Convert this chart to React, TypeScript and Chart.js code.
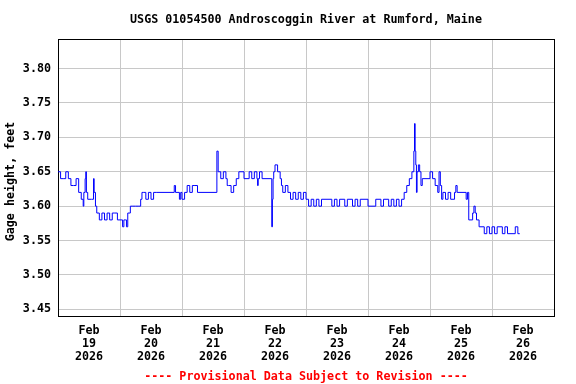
import { useEffect, useRef } from 'react';
import { Chart, registerables } from 'chart.js';

Chart.register(...registerables);

const titleText = 'USGS 01054500 Androscoggin River at Rumford, Maine';
const footerText = '---- Provisional Data Subject to Revision ----';
const yAxisTitle = 'Gage height, feet ';
const monthLabel = 'Feb';
const yearLabel = '2026';
const dayLabels = ['19', '20', '21', '22', '23', '24', '25', '26'];
const yTickValues = [3.45, 3.5, 3.55, 3.6, 3.65, 3.7, 3.75, 3.8];

// hours since Feb 19 2026 00:00
const hours = [
  0, 1, 2, 3, 4, 5, 6, 7, 8, 9, 9.75, 10, 10.5, 10.75, 11, 11.5, 12, 13, 13.75, 14,
  14.5, 15, 16, 17, 18, 19, 20, 21, 22, 23, 24, 25, 25.5, 26, 26.5, 27, 28, 29, 30, 31,
  32, 32.5, 33, 34, 35, 36, 37, 38, 45, 45.5, 47, 47.5, 48, 49, 50, 51, 52, 53, 54, 61.5,
  62, 63, 64, 65, 65.5, 66, 67, 68, 69, 70, 72, 74, 75, 76, 77, 77.25, 77.5, 78, 79, 82.75,
  83, 83.25, 83.5, 84, 85, 86, 86.5, 87, 88, 89, 90, 91, 92, 93, 94, 95, 96, 97, 98, 99,
  100, 101, 102, 106, 107, 108, 109, 111, 112, 114, 115, 116, 117, 120, 123, 125, 126, 128, 129, 130,
  131, 132, 133, 134, 135, 136, 137, 137.75, 138, 138.25, 138.5, 138.75, 139, 139.5, 140, 140.5, 141, 144, 145, 146,
  147, 147.5, 148, 148.5, 149, 150, 151, 152, 153.5, 154, 154.5, 158, 158.5, 159, 160.5, 161, 161.5, 162, 163, 165,
  166, 167, 168, 169, 170, 172, 173, 174, 177, 178, 178.75,
];

const gage = [
  3.65, 3.64, 3.64, 3.65, 3.64, 3.63, 3.63, 3.64, 3.62, 3.61, 3.60, 3.62, 3.64, 3.65, 3.62, 3.61, 3.61, 3.61, 3.64, 3.62,
  3.60, 3.59, 3.58, 3.59, 3.58, 3.59, 3.58, 3.59, 3.59, 3.58, 3.58, 3.57, 3.58, 3.58, 3.57, 3.59, 3.60, 3.60, 3.60, 3.60,
  3.61, 3.62, 3.62, 3.61, 3.62, 3.61, 3.62, 3.62, 3.63, 3.62, 3.61, 3.62, 3.61, 3.62, 3.63, 3.62, 3.63, 3.63, 3.62, 3.68,
  3.65, 3.64, 3.65, 3.64, 3.63, 3.63, 3.62, 3.63, 3.64, 3.65, 3.64, 3.65, 3.64, 3.65, 3.64, 3.63, 3.64, 3.65, 3.64, 3.57,
  3.61, 3.64, 3.65, 3.66, 3.65, 3.64, 3.63, 3.62, 3.63, 3.62, 3.61, 3.62, 3.61, 3.62, 3.61, 3.62, 3.61, 3.60, 3.61, 3.60,
  3.61, 3.60, 3.61, 3.60, 3.61, 3.60, 3.61, 3.60, 3.61, 3.60, 3.61, 3.60, 3.61, 3.60, 3.61, 3.60, 3.61, 3.60, 3.61, 3.60,
  3.61, 3.60, 3.61, 3.62, 3.63, 3.64, 3.65, 3.68, 3.72, 3.68, 3.66, 3.62, 3.65, 3.66, 3.65, 3.63, 3.64, 3.65, 3.64, 3.63,
  3.62, 3.65, 3.63, 3.61, 3.62, 3.61, 3.62, 3.61, 3.62, 3.63, 3.62, 3.61, 3.62, 3.58, 3.59, 3.60, 3.59, 3.58, 3.57, 3.56,
  3.57, 3.56, 3.57, 3.56, 3.57, 3.56, 3.57, 3.56, 3.57, 3.56, 3.56,
];

export default function App() {
  const ref = useRef<HTMLCanvasElement>(null);

  useEffect(() => {
    const font = { family: '"DejaVu Sans Mono", monospace', weight: 'bold' as const, size: 11.7 };
    const xTicks: number[] = [];
    for (let i = 0; i <= dayLabels.length; i++) {
      xTicks.push(i * 24);
      if (i < dayLabels.length) xTicks.push(i * 24 + 12);
    }
    const xMax = dayLabels.length * 24;

    const chart = new Chart(ref.current as HTMLCanvasElement, {
      type: 'line',
      data: {
        datasets: [
          {
            data: hours.map((h, i) => ({ x: h, y: gage[i] })),
            borderColor: '#0000ff',
            borderWidth: 1,
            pointRadius: 0,
            stepped: true,
            fill: false,
          },
        ],
      },
      options: {
        responsive: false,
        animation: false,
        devicePixelRatio: 1,
        layout: { padding: { left: 0, right: 22, top: 0, bottom: 0 } },
        plugins: {
          legend: { display: false },
          tooltip: { enabled: false },
          title: {
            display: true,
            text: titleText,
            color: '#000000',
            font: { ...font, lineHeight: 1.2 },
            padding: { top: 13, bottom: 11.96 },
            fullSize: false,
          },
          subtitle: {
            display: true,
            text: footerText,
            position: 'bottom',
            color: '#ff0000',
            font: { ...font, lineHeight: 1.2 },
            padding: { top: 6, bottom: 0.5 },
            fullSize: false,
          },
        },
        scales: {
          x: {
            type: 'linear',
            min: 0,
            max: xMax,
            afterBuildTicks: (s: any) => {
              s.ticks = xTicks.map((v) => ({ value: v }));
            },
            afterFit: (s: any) => {
              s.height = 46.6;
            },
            grid: {
              drawTicks: false,
              color: (ctx: any) => {
                const v = ctx.tick ? ctx.tick.value : 0;
                return v % 24 === 0 && v > 0 && v < xMax ? '#c8c8c8' : 'rgba(0,0,0,0)';
              },
            },
            border: { color: '#000000', width: 1 },
            ticks: {
              autoSkip: false,
              maxRotation: 0,
              minRotation: 0,
              padding: 7,
              color: '#000000',
              font: { ...font, lineHeight: 1.13 },
              callback: (value: any) => {
                const v = Number(value);
                if (v % 24 === 12) {
                  return [monthLabel, dayLabels[(v - 12) / 24], yearLabel];
                }
                return '';
              },
            },
          },
          x2: {
            type: 'linear',
            position: 'top',
            display: true,
            min: 0,
            max: 1,
            afterFit: (s: any) => {
              s.height = 0;
            },
            grid: { display: false, drawTicks: false },
            ticks: { display: false },
            border: { display: true, color: '#000000', width: 1 },
          },
          y: {
            type: 'linear',
            min: 3.43906,
            max: 3.84302,
            afterBuildTicks: (s: any) => {
              s.ticks = yTickValues.map((v) => ({ value: v }));
            },
            afterFit: (s: any) => {
              s.width = 58;
            },
            grid: { color: '#c8c8c8', drawTicks: false },
            border: { color: '#000000', width: 1 },
            ticks: {
              padding: 7,
              color: '#000000',
              font,
              callback: (value: any) => Number(value).toFixed(2),
            },
            title: {
              display: true,
              text: yAxisTitle,
              color: '#000000',
              font: { ...font, lineHeight: 1.2 },
              padding: { top: 4, bottom: 0 },
            },
          },
          y2: {
            type: 'linear',
            position: 'right',
            display: true,
            min: 0,
            max: 1,
            afterFit: (s: any) => {
              s.width = 0;
            },
            grid: { display: false, drawTicks: false },
            ticks: { display: false },
            border: { display: true, color: '#000000', width: 1 },
          },
        },
      },
    });
    return () => chart.destroy();
  }, []);

  return (
    <div style={{ position: 'absolute', left: 0, top: 0, width: 576, height: 384, background: '#ffffff' }}>
      <canvas ref={ref} width={576} height={384} style={{ display: 'block' }} />
    </div>
  );
}
